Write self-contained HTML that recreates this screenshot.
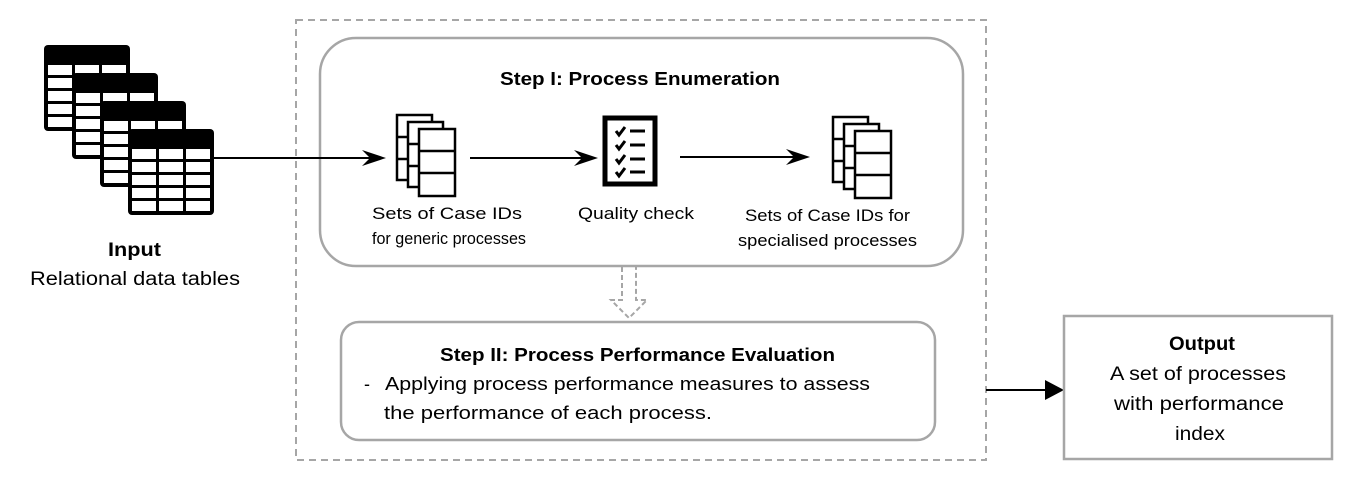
<!DOCTYPE html>
<html><head><style>
html,body{margin:0;padding:0;background:#fff;}
svg text{font-family:"Liberation Sans",sans-serif;fill:#000;}
</style></head><body>
<svg width="1357" height="488" viewBox="0 0 1357 488" xmlns="http://www.w3.org/2000/svg">
<defs>
<g id="tbl">
<rect x="0" y="0" width="86" height="86" rx="4" fill="#000"/>
<g fill="#fff">
<rect x="4" y="20" width="24" height="10"/><rect x="31" y="20" width="24" height="10"/><rect x="58" y="20" width="24" height="10"/>
<rect x="4" y="33" width="24" height="10"/><rect x="31" y="33" width="24" height="10"/><rect x="58" y="33" width="24" height="10"/>
<rect x="4" y="46" width="24" height="10"/><rect x="31" y="46" width="24" height="10"/><rect x="58" y="46" width="24" height="10"/>
<rect x="4" y="59" width="24" height="10"/><rect x="31" y="59" width="24" height="10"/><rect x="58" y="59" width="24" height="10"/>
<rect x="4" y="72" width="24" height="10"/><rect x="31" y="72" width="24" height="10"/><rect x="58" y="72" width="24" height="10"/>
</g>
</g>
<g id="stack" fill="#fff" stroke="#000" stroke-width="2.5">
<rect x="0" y="0" width="35" height="65"/>
<line x1="0" y1="22" x2="35" y2="22"/><line x1="0" y1="44" x2="35" y2="44"/>
<rect x="11" y="7" width="35" height="65"/>
<line x1="11" y1="29" x2="46" y2="29"/><line x1="11" y1="51" x2="46" y2="51"/>
<rect x="22" y="14" width="36" height="67"/>
<line x1="22" y1="36" x2="58" y2="36"/><line x1="22" y1="58" x2="58" y2="58"/>
</g>
</defs>

<use href="#tbl" x="44" y="45"/>
<use href="#tbl" x="72" y="73"/>
<use href="#tbl" x="100" y="101"/>
<use href="#tbl" x="128" y="129"/>
<text x="108" y="256" font-size="19" font-weight="bold" textLength="53" lengthAdjust="spacingAndGlyphs">Input</text>
<text x="30" y="285" font-size="19" textLength="210" lengthAdjust="spacingAndGlyphs">Relational data tables</text>

<rect x="296" y="20" width="690" height="440" fill="none" stroke="#a6a6a6" stroke-width="2" stroke-dasharray="7,5"/>
<rect x="320" y="38" width="643" height="228" rx="36" fill="none" stroke="#a6a6a6" stroke-width="2.5"/>
<text x="500" y="85" font-size="18" font-weight="bold" textLength="280" lengthAdjust="spacingAndGlyphs">Step I: Process Enumeration</text>

<line x1="213" y1="158" x2="372" y2="158" stroke="#000" stroke-width="2"/>
<polygon points="386,158 362,150 370,158 362,166" fill="#000"/>
<use href="#stack" x="397" y="115"/>
<line x1="470" y1="158" x2="584" y2="158" stroke="#000" stroke-width="2"/>
<polygon points="598,158 574,150 582,158 574,166" fill="#000"/>
<rect x="605" y="118" width="50" height="66" fill="#fff" stroke="#000" stroke-width="5"/>
<g stroke="#000" stroke-width="3" fill="none">
<polyline points="616,131 619,135 625,127"/><line x1="630" y1="131" x2="645" y2="131"/>
<polyline points="616,145 619,149 625,141"/><line x1="630" y1="145" x2="645" y2="145"/>
<polyline points="616,159 619,163 625,155"/><line x1="630" y1="159" x2="645" y2="159"/>
<polyline points="616,172 619,176 625,168"/><line x1="630" y1="172" x2="645" y2="172"/>
</g>
<line x1="680" y1="157" x2="796" y2="157" stroke="#000" stroke-width="2"/>
<polygon points="810,157 786,149 794,157 786,165" fill="#000"/>
<use href="#stack" x="833" y="117"/>

<text x="372" y="219" font-size="17" textLength="150" lengthAdjust="spacingAndGlyphs">Sets of Case IDs</text>
<text x="372" y="244" font-size="17" textLength="154" lengthAdjust="spacingAndGlyphs">for generic processes</text>
<text x="578" y="219" font-size="17" textLength="116" lengthAdjust="spacingAndGlyphs">Quality check</text>
<text x="745" y="221" font-size="17" textLength="165" lengthAdjust="spacingAndGlyphs">Sets of Case IDs for</text>
<text x="738" y="246" font-size="17" textLength="179" lengthAdjust="spacingAndGlyphs">specialised processes</text>

<g fill="none" stroke="#a6a6a6" stroke-width="2" stroke-dasharray="5,3">
<polyline points="622,267 622,300 611,300 629,318 647,300 636,300 636,267"/>
</g>

<rect x="341" y="322" width="594" height="118" rx="18" fill="none" stroke="#a6a6a6" stroke-width="2.5"/>
<text x="440" y="361" font-size="18" font-weight="bold" textLength="395" lengthAdjust="spacingAndGlyphs">Step II: Process Performance Evaluation</text>
<text x="364" y="390" font-size="18">-</text>
<text x="385" y="390" font-size="18" textLength="485" lengthAdjust="spacingAndGlyphs">Applying process performance measures to assess</text>
<text x="384" y="419" font-size="18" textLength="328" lengthAdjust="spacingAndGlyphs">the performance of each process.</text>

<line x1="986" y1="390" x2="1048" y2="390" stroke="#000" stroke-width="2"/>
<polygon points="1064,390 1045,380 1045,400" fill="#000"/>
<rect x="1064" y="316" width="268" height="143" fill="none" stroke="#a6a6a6" stroke-width="2.5"/>
<text x="1169" y="350" font-size="19" font-weight="bold" textLength="66" lengthAdjust="spacingAndGlyphs">Output</text>
<text x="1110" y="380" font-size="19" textLength="176" lengthAdjust="spacingAndGlyphs">A set of processes</text>
<text x="1114" y="410" font-size="19" textLength="170" lengthAdjust="spacingAndGlyphs">with performance</text>
<text x="1175" y="440" font-size="19" textLength="50" lengthAdjust="spacingAndGlyphs">index</text>
</svg>
</body></html>
